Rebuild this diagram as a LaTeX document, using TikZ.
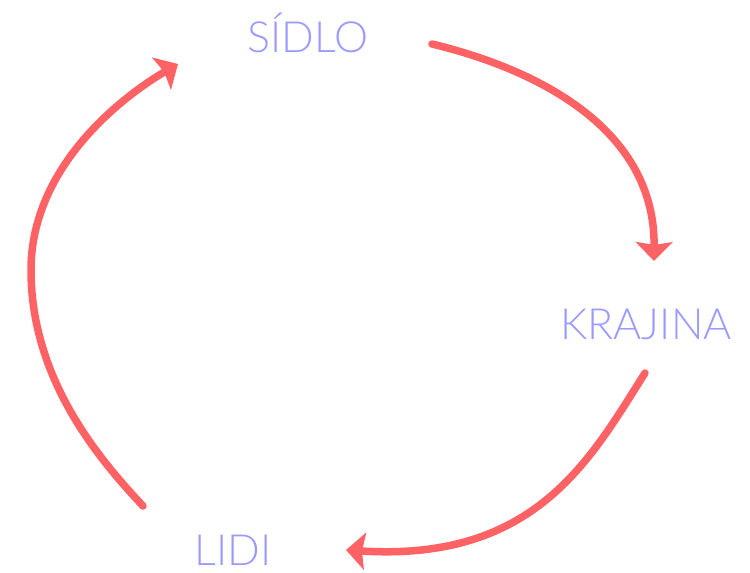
\documentclass[tikz,border=0pt]{standalone}
\usepackage{fontspec}
\setmainfont{Lato Light}
\usetikzlibrary{arrows.meta}
\definecolor{lab}{HTML}{9B9BFF}
\definecolor{arr}{HTML}{FF6264}
\begin{document}
\begin{tikzpicture}[x=1pt,y=-1pt,
  lbl/.style={text=lab,font=\fontsize{43}{50}\selectfont,inner sep=0pt},
  cyc/.style={draw=arr,line width=7.5pt,line cap=round,-{Stealth[length=19pt,width=37pt,inset=3pt]}}]
\useasboundingbox (0,0) rectangle (750,573);
\node[lbl] (s) at (308,33) {SÍDLO};
\node[lbl] (k) at (646,324) {KRAJINA};
\node[lbl] (l) at (233,550) {LIDI};
\coordinate (s1) at (432,44);
\coordinate (k0) at (654,261);
\coordinate (k1) at (645,373);
\coordinate (l0) at (346,550);
\coordinate (l1) at (143,506);
\coordinate (s0) at (178,64);
\draw[cyc] (s1) .. controls (540,70) and (655,130) .. (k0);
\draw[cyc] (k1) .. controls (590,460) and (535,562) .. (l0);
\draw[cyc] (l1) .. controls (100,460) and (31,380) .. (31,270)
  .. controls (31,165) and (125,95) .. (s0);
\end{tikzpicture}
\end{document}
